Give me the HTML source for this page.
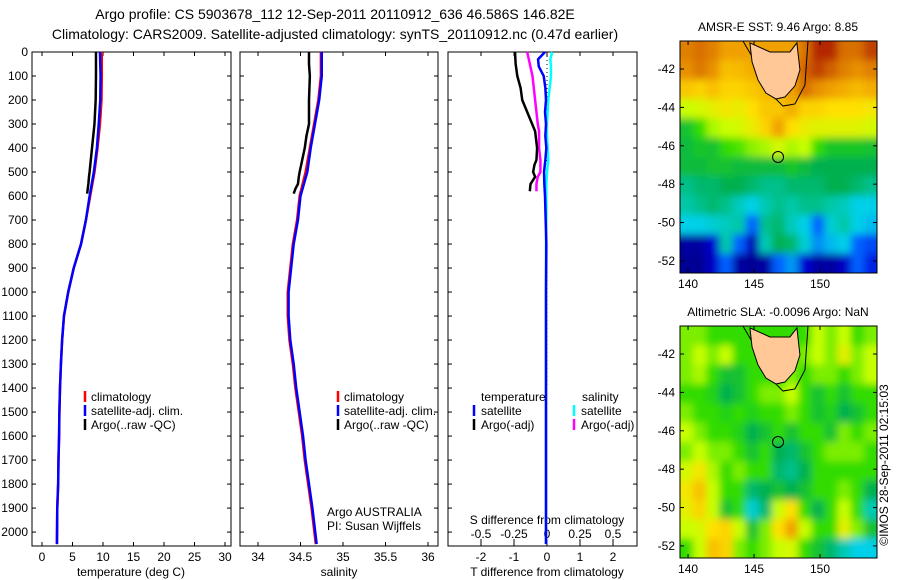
<!DOCTYPE html>
<html><head><meta charset="utf-8"><style>
html,body{margin:0;padding:0;background:#fff}
svg{display:block;font-family:"Liberation Sans",sans-serif}
text{fill:#000}
</style></head><body>
<svg id="fig" width="900" height="580" viewBox="0 0 900 580" xmlns="http://www.w3.org/2000/svg">
<defs>
<filter id="blur" x="-5%" y="-5%" width="110%" height="110%"><feGaussianBlur stdDeviation="4"/></filter>
<clipPath id="clip1"><rect x="680" y="41" width="197" height="232"/></clipPath>
<clipPath id="clip2"><rect x="680" y="326" width="197" height="232"/></clipPath>
</defs>
<text x="335" y="19" font-size="14" text-anchor="middle">Argo profile: CS 5903678_112 12-Sep-2011 20110912_636 46.586S 146.82E</text>
<text x="335" y="39" font-size="14" text-anchor="middle">Climatology: CARS2009. Satellite-adjusted climatology: synTS_20110912.nc (0.47d earlier)</text>
<text x="888" y="465" font-size="12" text-anchor="middle" transform="rotate(-90 888 465)">©IMOS 28-Sep-2011 02:15:03</text>
</svg>
<script>
// ---------- data ----------
const depthTicks=[0,100,200,300,400,500,600,700,800,900,1000,1100,1200,1300,1400,1500,1600,1700,1800,1900,2000];
const tTicks=[0,5,10,15,20,25,30];
const sTicks=[34,34.5,35,35.5,36];
const sTickLabels=["34","34.5","35","35.5","36"];
const dTTicks=[-2,-1,0,1,2];
const dSTicks=[-0.5,-0.25,0,0.25,0.5];
const dSTickLabels=["-0.5","-0.25","0","0.25","0.5"];

const climDepth=[0,100,200,300,400,500,600,700,800,900,1000,1100,1200,1300,1400,1500,1600,1700,1800,1900,2050];
const climT=[9.8,9.8,9.75,9.5,9.1,8.6,7.9,7.2,6.4,5.2,4.3,3.6,3.3,3.1,2.95,2.85,2.8,2.7,2.65,2.5,2.45];
const satT=[9.5,9.6,9.55,9.3,9.0,8.5,7.8,7.2,6.4,5.2,4.3,3.6,3.3,3.1,2.95,2.85,2.8,2.7,2.65,2.5,2.45];
const climS=[34.74,34.74,34.71,34.66,34.61,34.56,34.49,34.46,34.41,34.38,34.35,34.35,34.37,34.41,34.44,34.48,34.52,34.55,34.59,34.63,34.68];
const satS=[34.75,34.75,34.72,34.67,34.62,34.58,34.5,34.47,34.42,34.39,34.36,34.36,34.38,34.42,34.45,34.49,34.53,34.56,34.6,34.64,34.69];
const argoDepth=[0,50,100,200,300,350,400,450,500,520,550,570,590];
const argoT=[8.85,8.85,8.85,8.8,8.6,8.4,8.2,8.0,7.8,7.7,7.6,7.5,7.4];
const argoS=[34.6,34.6,34.61,34.6,34.6,34.57,34.55,34.52,34.49,34.48,34.47,34.44,34.42];

const dDepth=[0,30,60,100,150,200,250,300,350,400,450,500,550,600,700,800,1000,1400,2050];
const satTdiff=[-0.06,-0.27,-0.25,-0.1,-0.05,-0.03,-0.06,-0.03,-0.05,-0.02,-0.05,-0.09,-0.08,-0.06,-0.04,-0.02,-0.03,-0.03,-0.03];
const satSdiff=[0.04,0.025,0.03,0.03,0.02,0.01,0.005,0.0,0.0,0.005,0.01,0.0,-0.005,-0.005,-0.005,-0.008,-0.008,-0.008,-0.008];
const argoDDepth=[0,50,100,150,200,250,300,330,400,450,470,500,520,550,580];
const argoTdiff=[-0.97,-0.95,-0.9,-0.8,-0.75,-0.6,-0.45,-0.36,-0.3,-0.32,-0.38,-0.42,-0.36,-0.5,-0.52];
const argoSdiff=[-0.15,-0.13,-0.11,-0.1,-0.09,-0.08,-0.07,-0.06,-0.06,-0.05,-0.05,-0.05,-0.07,-0.08,-0.08];

const sstGrid=[
[.84,.86,.84,.8,.8,.8,.8,.8,.8,.86,.95,.95,.86,.86,.92],
[.82,.85,.82,.75,.76,.78,.8,.8,.8,.88,.92,.88,.84,.82,.84],
[.74,.72,.75,.72,.72,.74,.76,.78,.8,.86,.82,.8,.78,.76,.78],
[.6,.62,.65,.68,.66,.7,.74,.74,.78,.72,.72,.7,.7,.7,.68],
[.45,.5,.58,.6,.62,.66,.72,.8,.7,.66,.64,.64,.64,.64,.62],
[.44,.46,.45,.5,.52,.56,.58,.62,.58,.6,.5,.46,.46,.46,.45],
[.44,.44,.45,.45,.44,.44,.44,.44,.46,.44,.42,.42,.42,.42,.42],
[.38,.4,.4,.42,.42,.4,.38,.38,.4,.4,.4,.42,.42,.4,.38],
[.36,.38,.4,.38,.34,.3,.35,.38,.36,.38,.38,.36,.34,.3,.3],
[.3,.3,.32,.34,.36,.2,.38,.4,.34,.3,.2,.32,.36,.3,.28],
[.05,.05,.12,.36,.2,.08,.35,.42,.4,.32,.24,.28,.3,.2,.18],
[.03,.03,.1,.2,.05,.03,.05,.2,.25,.12,.05,.05,.1,.2,.15]];
const slaGrid=[
[.55,.55,.5,.5,.5,.5,.5,.5,.5,.5,.6,.55,.6,.5,.55],
[.55,.6,.55,.6,.5,.5,.5,.5,.5,.55,.6,.55,.65,.55,.6],
[.55,.58,.5,.45,.45,.5,.5,.5,.55,.5,.55,.55,.5,.55,.6],
[.5,.5,.48,.42,.45,.5,.55,.55,.6,.5,.45,.5,.45,.5,.5],
[.55,.5,.5,.48,.5,.48,.5,.5,.55,.5,.45,.48,.42,.45,.5],
[.6,.55,.5,.5,.48,.42,.45,.5,.45,.5,.5,.45,.55,.5,.55],
[.55,.6,.55,.55,.5,.45,.5,.42,.4,.45,.5,.55,.55,.55,.5],
[.62,.68,.58,.5,.55,.5,.5,.4,.38,.42,.5,.5,.5,.5,.5],
[.68,.75,.6,.5,.5,.4,.42,.45,.42,.45,.5,.5,.55,.5,.42],
[.65,.72,.6,.45,.5,.32,.4,.6,.7,.5,.42,.5,.6,.5,.35],
[.6,.62,.7,.72,.6,.45,.55,.7,.8,.6,.5,.5,.65,.55,.45],
[.5,.6,.75,.72,.55,.5,.55,.6,.62,.5,.45,.4,.35,.3,.3]];
const lonTicks=[140,145,150];
const latTicks=[-42,-44,-46,-48,-50,-52];
const tasLon=[144.69,146.21,147.72,148.25,148.48,148.1,147.34,146.66,145.9,145.3,144.85];
const tasLat=[-40.64,-41.11,-41.11,-40.64,-42.05,-42.88,-43.46,-43.56,-43.25,-42.57,-41.63];
const contLon=[144.16,145.45,146.36,147.19,148.1,148.86,149.09];
const contLat=[-40.54,-42.05,-43.35,-43.93,-43.82,-42.83,-40.54];
const floatLon=146.82, floatLat=-46.586;

// ---------- helpers ----------
const NS="http://www.w3.org/2000/svg";
const svg=document.getElementById('fig');
function el(tag,attrs,parent){const e=document.createElementNS(NS,tag);for(const k in attrs)e.setAttribute(k,attrs[k]);(parent||svg).appendChild(e);return e;}
function txt(x,y,s,size,anchor,parent){const t=el('text',{x:x,y:y,'font-size':size,'text-anchor':anchor||'middle'},parent);t.textContent=s;return t;}

const Y0=52,Y1=546,DMAX=2058;
const yD=d=>Y0+(d/DMAX)*(Y1-Y0);
const P1={x0:32,x1:231},P2={x0:240,x1:438},P3={x0:448,x1:637};
const xT=v=>42+v*6.1;
const xS=v=>258+(v-34)*85;
const xDT=v=>547+v*33;
const xDS=v=>547+v*132;

function frame(P,name){
  const r=el('rect',{x:P.x0,y:Y0,width:P.x1-P.x0,height:Y1-Y0,fill:'#fff',stroke:'#000','stroke-width':1});
  
  
  for(const d of depthTicks){
    el('line',{x1:P.x0,x2:P.x0+4,y1:yD(d),y2:yD(d),stroke:'#000'});
    el('line',{x1:P.x1,x2:P.x1-4,y1:yD(d),y2:yD(d),stroke:'#000'});
  }
}
function line(xs,ds,xf,color,w,name){
  let pts=[];
  for(let i=0;i<xs.length;i++){pts.push(xf(xs[i])+','+yD(ds[i]));}
  const p=el('polyline',{points:pts.join(' '),fill:'none',stroke:color,'stroke-width':w});
  
  
}
function legendBar(x,y,color,name){
  const l=el('line',{x1:x,x2:x,y1:y-10,y2:y+1,stroke:color,'stroke-width':2.5});
  
  
}

// ---------- panel 1: temperature ----------
frame(P1,'temperature-panel');
for(const d of depthTicks){const t=txt(28,yD(d)+4,String(d),12,'end');}
for(const v of tTicks){
  el('line',{x1:xT(v),x2:xT(v),y1:Y1,y2:Y1-4,stroke:'#000'});
  el('line',{x1:xT(v),x2:xT(v),y1:Y0,y2:Y0+4,stroke:'#000'});
  const t=txt(xT(v),561,String(v),12);
}
{const t=txt(131,576,'temperature (deg C)',12);}
line(climT,climDepth,xT,'#ff0000',2.5,'temperature-climatology-line');
line(satT,climDepth,xT,'#0000ff',2.5,'temperature-satellite-line');
line(argoT,argoDepth,xT,'#000000',2.5,'temperature-argo-line');
legendBar(85,401,'#ff0000','legend-climatology-bar');
legendBar(85,415,'#0000ff','legend-satellite-bar');
legendBar(85,429,'#000','legend-argo-bar');
[['climatology',401],['satellite-adj. clim.',415],['Argo(..raw -QC)',429]].forEach(a=>{const t=txt(91,a[1],a[0],12,'start');});

// ---------- panel 2: salinity ----------
frame(P2,'salinity-panel');
sTicks.forEach((v,i)=>{
  el('line',{x1:xS(v),x2:xS(v),y1:Y1,y2:Y1-4,stroke:'#000'});
  el('line',{x1:xS(v),x2:xS(v),y1:Y0,y2:Y0+4,stroke:'#000'});
  const t=txt(xS(v),561,sTickLabels[i],12);
});
{const t=txt(339,576,'salinity',12);}
line(climS,climDepth,xS,'#ff0000',2.5,'salinity-climatology-line');
line(satS,climDepth,xS,'#0000ff',2.5,'salinity-satellite-line');
line(argoS,argoDepth,xS,'#000000',2.5,'salinity-argo-line');
legendBar(338,401,'#ff0000','legend-climatology-bar');
legendBar(338,415,'#0000ff','legend-satellite-bar');
legendBar(338,429,'#000','legend-argo-bar');
[['climatology',401],['satellite-adj. clim.',415],['Argo(..raw -QC)',429]].forEach(a=>{const t=txt(344,a[1],a[0],12,'start');});
{const t=txt(327,516,'Argo AUSTRALIA',12,'start');}
{const t=txt(327,530,'PI: Susan Wijffels',12,'start');}

// ---------- panel 3: differences ----------
frame(P3,'difference-panel');
el('line',{x1:547,x2:547,y1:Y0,y2:yD(1400),stroke:'#000','stroke-dasharray':'1,3'});
dTTicks.forEach(v=>{
  el('line',{x1:xDT(v),x2:xDT(v),y1:Y1,y2:Y1-4,stroke:'#000'});
  el('line',{x1:xDT(v),x2:xDT(v),y1:Y0,y2:Y0+4,stroke:'#000'});
  const t=txt(xDT(v),561,String(v),12);
});
dSTicks.forEach((v,i)=>{
  el('line',{x1:xDS(v),x2:xDS(v),y1:Y1-3,y2:Y1-7,stroke:'#000'});
  const t=txt(xDS(v),538,dSTickLabels[i],12);
});
{const t=txt(547,576,'T difference from climatology',12);}
{const t=txt(547,524,'S difference from climatology',12);}
line(satSdiff,dDepth,xDS,'#00ffff',2.5,'salinity-satellite-diff-line');
line(argoSdiff,argoDDepth,xDS,'#ff00ff',2.5,'salinity-argo-diff-line');
line(satTdiff,dDepth,xDT,'#0000ff',2.5,'temperature-satellite-diff-line');
line(argoTdiff,argoDDepth,xDT,'#000000',2.5,'temperature-argo-diff-line');
{const t=txt(481,401,'temperature',12,'start');}
{const t=txt(582,401,'salinity',12,'start');}
legendBar(474,415,'#0000ff','legend-t-satellite-bar');
legendBar(474,429,'#000','legend-t-argo-bar');
legendBar(574,415,'#00ffff','legend-s-satellite-bar');
legendBar(574,429,'#ff00ff','legend-s-argo-bar');
[['satellite',481,415],['Argo(-adj)',481,429],['satellite',581,415],['Argo(-adj)',581,429]].forEach(a=>{const t=txt(a[1],a[2],a[0],12,'start');});

// ---------- maps ----------
const stops=[[0,[0,0,128]],[0.12,[0,0,208]],[0.2,[0,96,255]],[0.3,[0,208,232]],[0.36,[0,200,168]],[0.42,[0,176,80]],[0.5,[48,220,0]],[0.6,[200,255,0]],[0.7,[255,224,0]],[0.8,[240,160,0]],[0.88,[208,96,0]],[1,[160,0,0]]];
function cmap(v){
  for(let i=1;i<stops.length;i++){if(v<=stops[i][0]){const a=stops[i-1],b=stops[i];const f=(v-a[0])/(b[0]-a[0]);const c=a[1].map((x,k)=>Math.round(x+(b[1][k]-x)*f));return 'rgb('+c+')';}}
  return 'rgb(160,0,0)';
}
function drawMap(top,grid,name,title,clip){
  const M={x0:680,x1:877,y0:top,y1:top+232};
  const lonL=139.39,lonR=154.32,latT=-40.54,latB=-52.63;
  const px=lo=>M.x0+(lo-lonL)/(lonR-lonL)*(M.x1-M.x0);
  const py=la=>M.y0+(latT-la)/(latT-latB)*(M.y1-M.y0);
  const g=el('g',{});
  
  
  const cg=el('g',{'clip-path':'url(#'+clip+')'},g);
  const bg=el('g',{filter:'url(#blur)'},cg);
  const rows=grid.length,cols=grid[0].length;
  const cw=(M.x1-M.x0)/cols,ch=(M.y1-M.y0)/rows;
  for(let r=0;r<rows;r++)for(let c=0;c<cols;c++){
    const x=M.x0+c*cw-(c===0?8:0), y=M.y0+r*ch-(r===0?8:0);
    const w=cw+0.5+(c===0?8:0)+(c===cols-1?8:0), h=ch+0.5+(r===0?8:0)+(r===rows-1?8:0);
    const cell=el('rect',{x:x,y:y,width:w,height:h,fill:cmap(grid[r][c])},bg);
    
    
  }
  const cont=el('polyline',{points:contLon.map((v,i)=>px(v)+','+py(contLat[i])).join(' '),fill:'none',stroke:'#000','stroke-width':1},cg);
  
  
  const land=el('polygon',{points:tasLon.map((v,i)=>px(v)+','+py(tasLat[i])).join(' '),fill:'#ffc896',stroke:'#000','stroke-width':1},cg);
  
  
  const fl=el('circle',{cx:px(floatLon),cy:py(floatLat),r:5.5,fill:'none',stroke:'#000','stroke-width':1},g);
  
  
  el('rect',{x:M.x0,y:M.y0,width:M.x1-M.x0,height:M.y1-M.y0,fill:'none',stroke:'#000'},g);
  lonTicks.forEach(v=>{
    el('line',{x1:px(v),x2:px(v),y1:M.y0,y2:M.y0+4,stroke:'#000'},g);
    el('line',{x1:px(v),x2:px(v),y1:M.y1,y2:M.y1-4,stroke:'#000'},g);
    const t=txt(px(v),M.y1+15,String(v),12,'middle',g);
  });
  latTicks.forEach(v=>{
    el('line',{x1:M.x0,x2:M.x0+4,y1:py(v),y2:py(v),stroke:'#000'},g);
    el('line',{x1:M.x1,x2:M.x1-4,y1:py(v),y2:py(v),stroke:'#000'},g);
    const t=txt(675,py(v)+4,String(v),12,'end',g);
  });
  const tt=txt(778,top-10,title,12,'middle',g);
  
  
}
drawMap(41,sstGrid,'sst-map','AMSR-E SST: 9.46 Argo: 8.85','clip1');
drawMap(326,slaGrid,'sla-map','Altimetric SLA: -0.0096 Argo: NaN','clip2');
</script>
</body></html>
